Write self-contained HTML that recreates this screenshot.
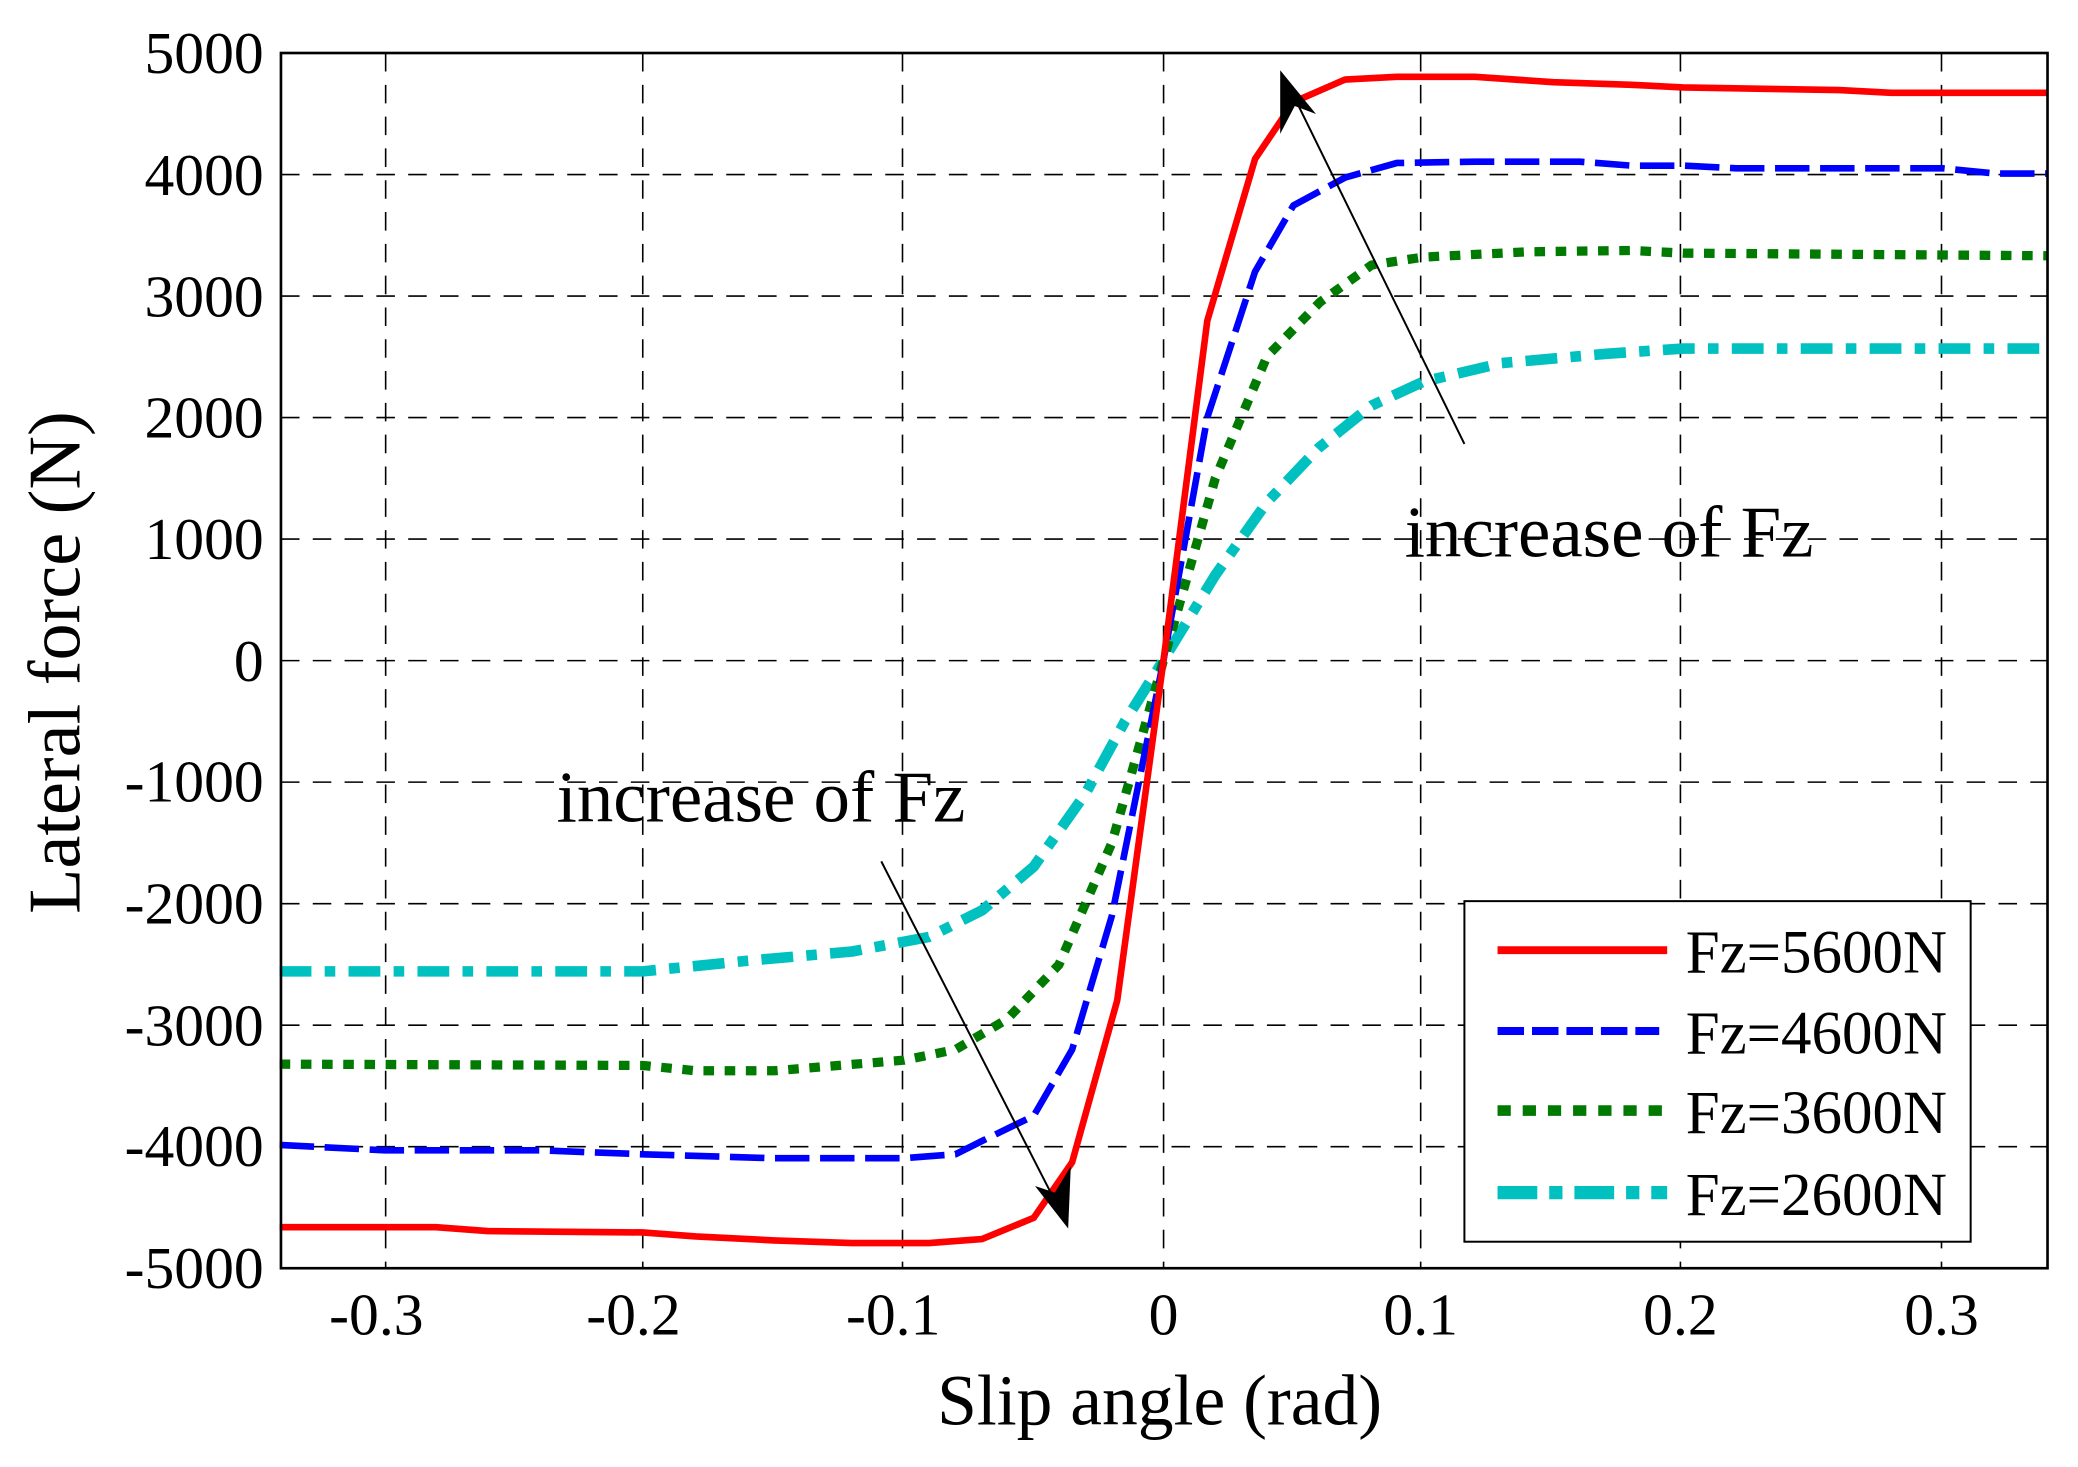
<!DOCTYPE html>
<html><head><meta charset="utf-8"><style>html,body{margin:0;padding:0;background:#fff}svg{display:block}</style></head>
<body>
<svg width="2078" height="1467" viewBox="0 0 1568 1107" preserveAspectRatio="none" xmlns="http://www.w3.org/2000/svg" font-family="Liberation Serif, serif">
<rect width="1568" height="1107" fill="#fff"/>
<g stroke="#000" stroke-width="1.2" stroke-dasharray="14,10" fill="none">
<path d="M291 40V957M485 40V957M681 40V957M878 40V957M1072 40V957M1268 40V957M1465 40V957"/>
<path d="M212 131.7H1545M212 223.4H1545M212 315.1H1545M212 406.8H1545M212 498.5H1545M212 590.2H1545M212 681.9H1545M212 773.6H1545M212 865.3H1545"/>
</g>
<g font-size="45" text-anchor="end" fill="#000">
<text x="199" y="55">5000</text><text x="199" y="147">4000</text><text x="199" y="239">3000</text><text x="199" y="330">2000</text><text x="199" y="422">1000</text><text x="199" y="514">0</text><text x="199" y="605">-1000</text><text x="199" y="697">-2000</text><text x="199" y="789">-3000</text><text x="199" y="880">-4000</text><text x="199" y="972">-5000</text>
</g>
<g font-size="45" text-anchor="middle" fill="#000">
<text x="284" y="1007">-0.3</text><text x="478" y="1007">-0.2</text><text x="674" y="1007">-0.1</text><text x="878" y="1007">0</text><text x="1072" y="1007">0.1</text><text x="1268" y="1007">0.2</text><text x="1465" y="1007">0.3</text>
</g>
<text x="875" y="1075" font-size="54" text-anchor="middle">Slip angle (rad)</text>
<text transform="translate(60,500) rotate(-90)" font-size="56" text-anchor="middle">Lateral force (N)</text>
<g fill="none" stroke-linejoin="round">
<polyline stroke="#00c0c0" stroke-width="8" stroke-dasharray="24,10,8,10" points="211,733 485,733 564,725 643,718 701,707 741,687 780,654 819,599 849,544 878,498 917,434 956,379 995,338 1035,306 1074,288 1133,274 1212,267 1270,263 1545,263"/>
<polyline stroke="#007a00" stroke-width="7" stroke-dasharray="8,8" points="211,803 485,804 525,808 584,808 682,800 721,792 760,769 799,728 839,636 878,498 917,361 956,269 996,228 1035,200 1074,194 1153,190 1231,189 1270,191 1545,193"/>
<polyline stroke="#0000ff" stroke-width="5" stroke-dasharray="26,8" points="211,864 290,868 407,868 485,871 584,874 682,874 721,871 741,861 780,842 809,792 839,691 878,498 911,315 947,205 976,155 1015,134 1054,123 1113,122 1192,122 1231,125 1270,125 1310,127 1466,127 1506,131 1545,131"/>
<polyline stroke="#ff0000" stroke-width="5" points="211,926 329,926 368,929 485,930 525,933 584,936 643,938 701,938 741,935 780,919 809,877 843,755 878,498 911,242 947,120 976,77 1015,60 1054,58 1113,58 1172,62 1231,64 1270,66 1388,68 1427,70 1545,70"/>
</g>
<rect x="212" y="40" width="1333" height="917" fill="none" stroke="#000" stroke-width="2"/>
<rect x="1105" y="680" width="382" height="257" fill="#fff" stroke="#000" stroke-width="1.5"/>
<g stroke-width="6" fill="none">
<line x1="1130" y1="717" x2="1258" y2="717" stroke="#ff0000"/>
<line x1="1130" y1="778" x2="1252" y2="778" stroke="#0000ff" stroke-dasharray="20,6"/>
<line x1="1130" y1="838" x2="1258" y2="838" stroke="#007a00" stroke-width="8" stroke-dasharray="10,9"/>
<line x1="1130" y1="900" x2="1258" y2="900" stroke="#00c0c0" stroke-width="10" stroke-dasharray="30,9,10,9"/>
</g>
<g font-size="46" fill="#000">
<text x="1272" y="734">Fz=5600N</text><text x="1272" y="795">Fz=4600N</text><text x="1272" y="855">Fz=3600N</text><text x="1272" y="917">Fz=2600N</text>
</g>
<g font-size="55" fill="#000"><text x="1060" y="420">increase of Fz</text><text x="420" y="620">increase of Fz</text></g>
<g stroke="#000" stroke-width="1.5"><line x1="1105" y1="335" x2="975" y2="70"/><line x1="665" y1="650" x2="798" y2="910"/></g>
<polygon points="966,53 993,86 977,80 966,101" fill="#000"/>
<polygon points="806,927 781,895 796,900 808,880" fill="#000"/>
</svg>
</body></html>
